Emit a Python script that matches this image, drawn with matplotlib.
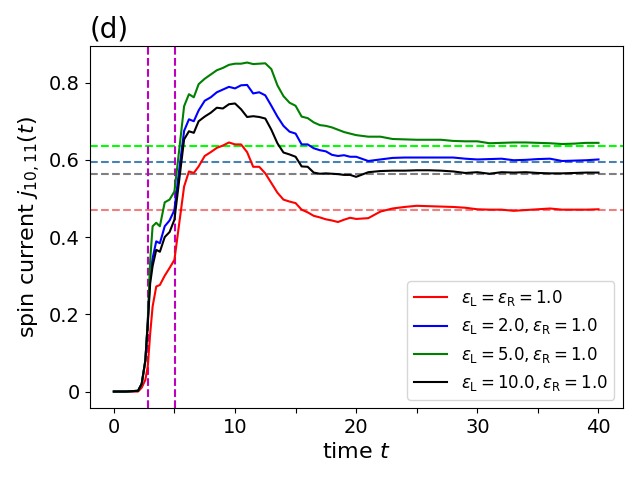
import numpy as np
import matplotlib
matplotlib.use('Agg')
import matplotlib.pyplot as plt

# time grid
t = [0, 1, 2.0, 2.3, 2.6, 2.8, 3.0, 3.2, 3.5, 3.8, 4.2, 4.6, 5.0, 5.4, 5.8, 6.2, 6.6, 7.0,
     7.5, 8.0, 8.5, 9.0, 9.5, 10.0, 10.5, 11.0, 11.5, 12.0, 12.5, 13.0, 13.5, 14.0, 14.5,
     15.0, 15.5, 16.0, 16.5, 17.0, 17.5, 18.0, 18.5, 19.0, 19.5,
     20, 21, 22, 23, 24, 25, 26, 27, 28, 29, 30, 31, 32, 33, 34, 35, 36, 37, 38, 39, 40]

j_red = [0, 0, 0.0, 0.01, 0.03, 0.065, 0.15, 0.22, 0.272, 0.276, 0.30, 0.32, 0.341, 0.436, 0.531, 0.57, 0.566, 0.583,
         0.61, 0.62, 0.631, 0.637, 0.645, 0.640, 0.640, 0.620, 0.582, 0.582, 0.565, 0.540, 0.515, 0.497, 0.492,
         0.488, 0.471, 0.464, 0.455, 0.451, 0.446, 0.443, 0.439, 0.445, 0.450,
         0.447, 0.449, 0.466, 0.474, 0.478, 0.481, 0.480, 0.479, 0.478, 0.476, 0.472, 0.471, 0.471, 0.468,
         0.470, 0.472, 0.474, 0.471, 0.471, 0.471, 0.472]

j_blue = [0, 0, 0.002, 0.02, 0.08, 0.18, 0.30, 0.345, 0.389, 0.384, 0.428, 0.443, 0.47, 0.575, 0.675, 0.705, 0.70, 0.728,
          0.753, 0.762, 0.775, 0.782, 0.789, 0.785, 0.793, 0.794, 0.772, 0.775, 0.767, 0.740, 0.712, 0.688, 0.673,
          0.668, 0.640, 0.640, 0.630, 0.625, 0.622, 0.613, 0.610, 0.612, 0.608,
          0.608, 0.597, 0.601, 0.605, 0.606, 0.606, 0.606, 0.606, 0.606, 0.603, 0.601, 0.602, 0.603, 0.599,
          0.600, 0.602, 0.603, 0.597, 0.598, 0.599, 0.601]

j_green = [0, 0, 0.002, 0.02, 0.08, 0.18, 0.34, 0.428, 0.437, 0.428, 0.49, 0.497, 0.518, 0.627, 0.739, 0.77, 0.762, 0.796,
           0.81, 0.821, 0.832, 0.838, 0.846, 0.849, 0.849, 0.852, 0.848, 0.849, 0.850, 0.835, 0.793, 0.765, 0.748,
           0.740, 0.712, 0.708, 0.697, 0.690, 0.688, 0.684, 0.678, 0.672, 0.668,
           0.664, 0.660, 0.660, 0.654, 0.653, 0.652, 0.652, 0.652, 0.649, 0.648, 0.648, 0.643, 0.644, 0.645,
           0.645, 0.644, 0.643, 0.641, 0.642, 0.644, 0.644]

j_black = [0, 0, 0.002, 0.02, 0.08, 0.175, 0.28, 0.325, 0.367, 0.362, 0.40, 0.413, 0.445, 0.549, 0.653, 0.674, 0.67, 0.70,
           0.712, 0.722, 0.735, 0.733, 0.744, 0.746, 0.731, 0.711, 0.713, 0.711, 0.707, 0.678, 0.643, 0.619, 0.614,
           0.608, 0.583, 0.582, 0.567, 0.564, 0.565, 0.564, 0.563, 0.561, 0.561,
           0.556, 0.568, 0.571, 0.572, 0.572, 0.573, 0.573, 0.572, 0.570, 0.566, 0.568, 0.564, 0.568, 0.567,
           0.568, 0.566, 0.565, 0.565, 0.566, 0.567, 0.567]

labels = [r'$\varepsilon_{\rm L}=\varepsilon_{\rm R}=1.0$',
          r'$\varepsilon_{\rm L}=2.0, \varepsilon_{\rm R}=1.0$',
          r'$\varepsilon_{\rm L}=5.0, \varepsilon_{\rm R}=1.0$',
          r'$\varepsilon_{\rm L}=10.0, \varepsilon_{\rm R}=1.0$']

# steady state levels and marker times
steady = [0.471, 0.594, 0.637, 0.563]
steady_colors = ['lightcoral', 'steelblue', 'lime', 'gray']
t_marks = [2.8, 5.05]


def draw_graph() -> None:
    fig, ax = plt.subplots(figsize=(6.4, 4.8), dpi=100)

    for s, c in zip(steady, steady_colors):
        ax.axhline(s, color=c, linestyle='--', linewidth=1.5)
    for tm in t_marks:
        ax.axvline(tm, color='m', linestyle='--', linewidth=1.5)

    ax.plot(t, j_red, color='red', label=labels[0], linewidth=1.5)
    ax.plot(t, j_blue, color='blue', label=labels[1], linewidth=1.5)
    ax.plot(t, j_green, color='green', label=labels[2], linewidth=1.5)
    ax.plot(t, j_black, color='black', label=labels[3], linewidth=1.5)

    ax.set_xticks([0, 5, 10, 15, 20, 25, 30, 35, 40])
    ax.set_xticklabels(['0', '', '10', '', '20', '', '30', '', '40'])
    ax.set_yticks([0, 0.2, 0.4, 0.6, 0.8])
    ax.set_yticklabels(['0', '0.2', '0.4', '0.6', '0.8'])
    ax.tick_params(labelsize=14)

    ax.set_xlabel(r'time $t$', fontsize=16)
    ax.set_ylabel(r'spin current $j_{10,11}(t)$', fontsize=16)
    ax.set_title('(d)', loc='left', fontsize=20)
    ax.legend(loc='lower right', fontsize=12)

    fig.subplots_adjust(left=0.14, right=0.973, bottom=0.15, top=0.904)
    fig.savefig('out.png')


def main() -> None:
    draw_graph()


if __name__ == '__main__':
    main()
